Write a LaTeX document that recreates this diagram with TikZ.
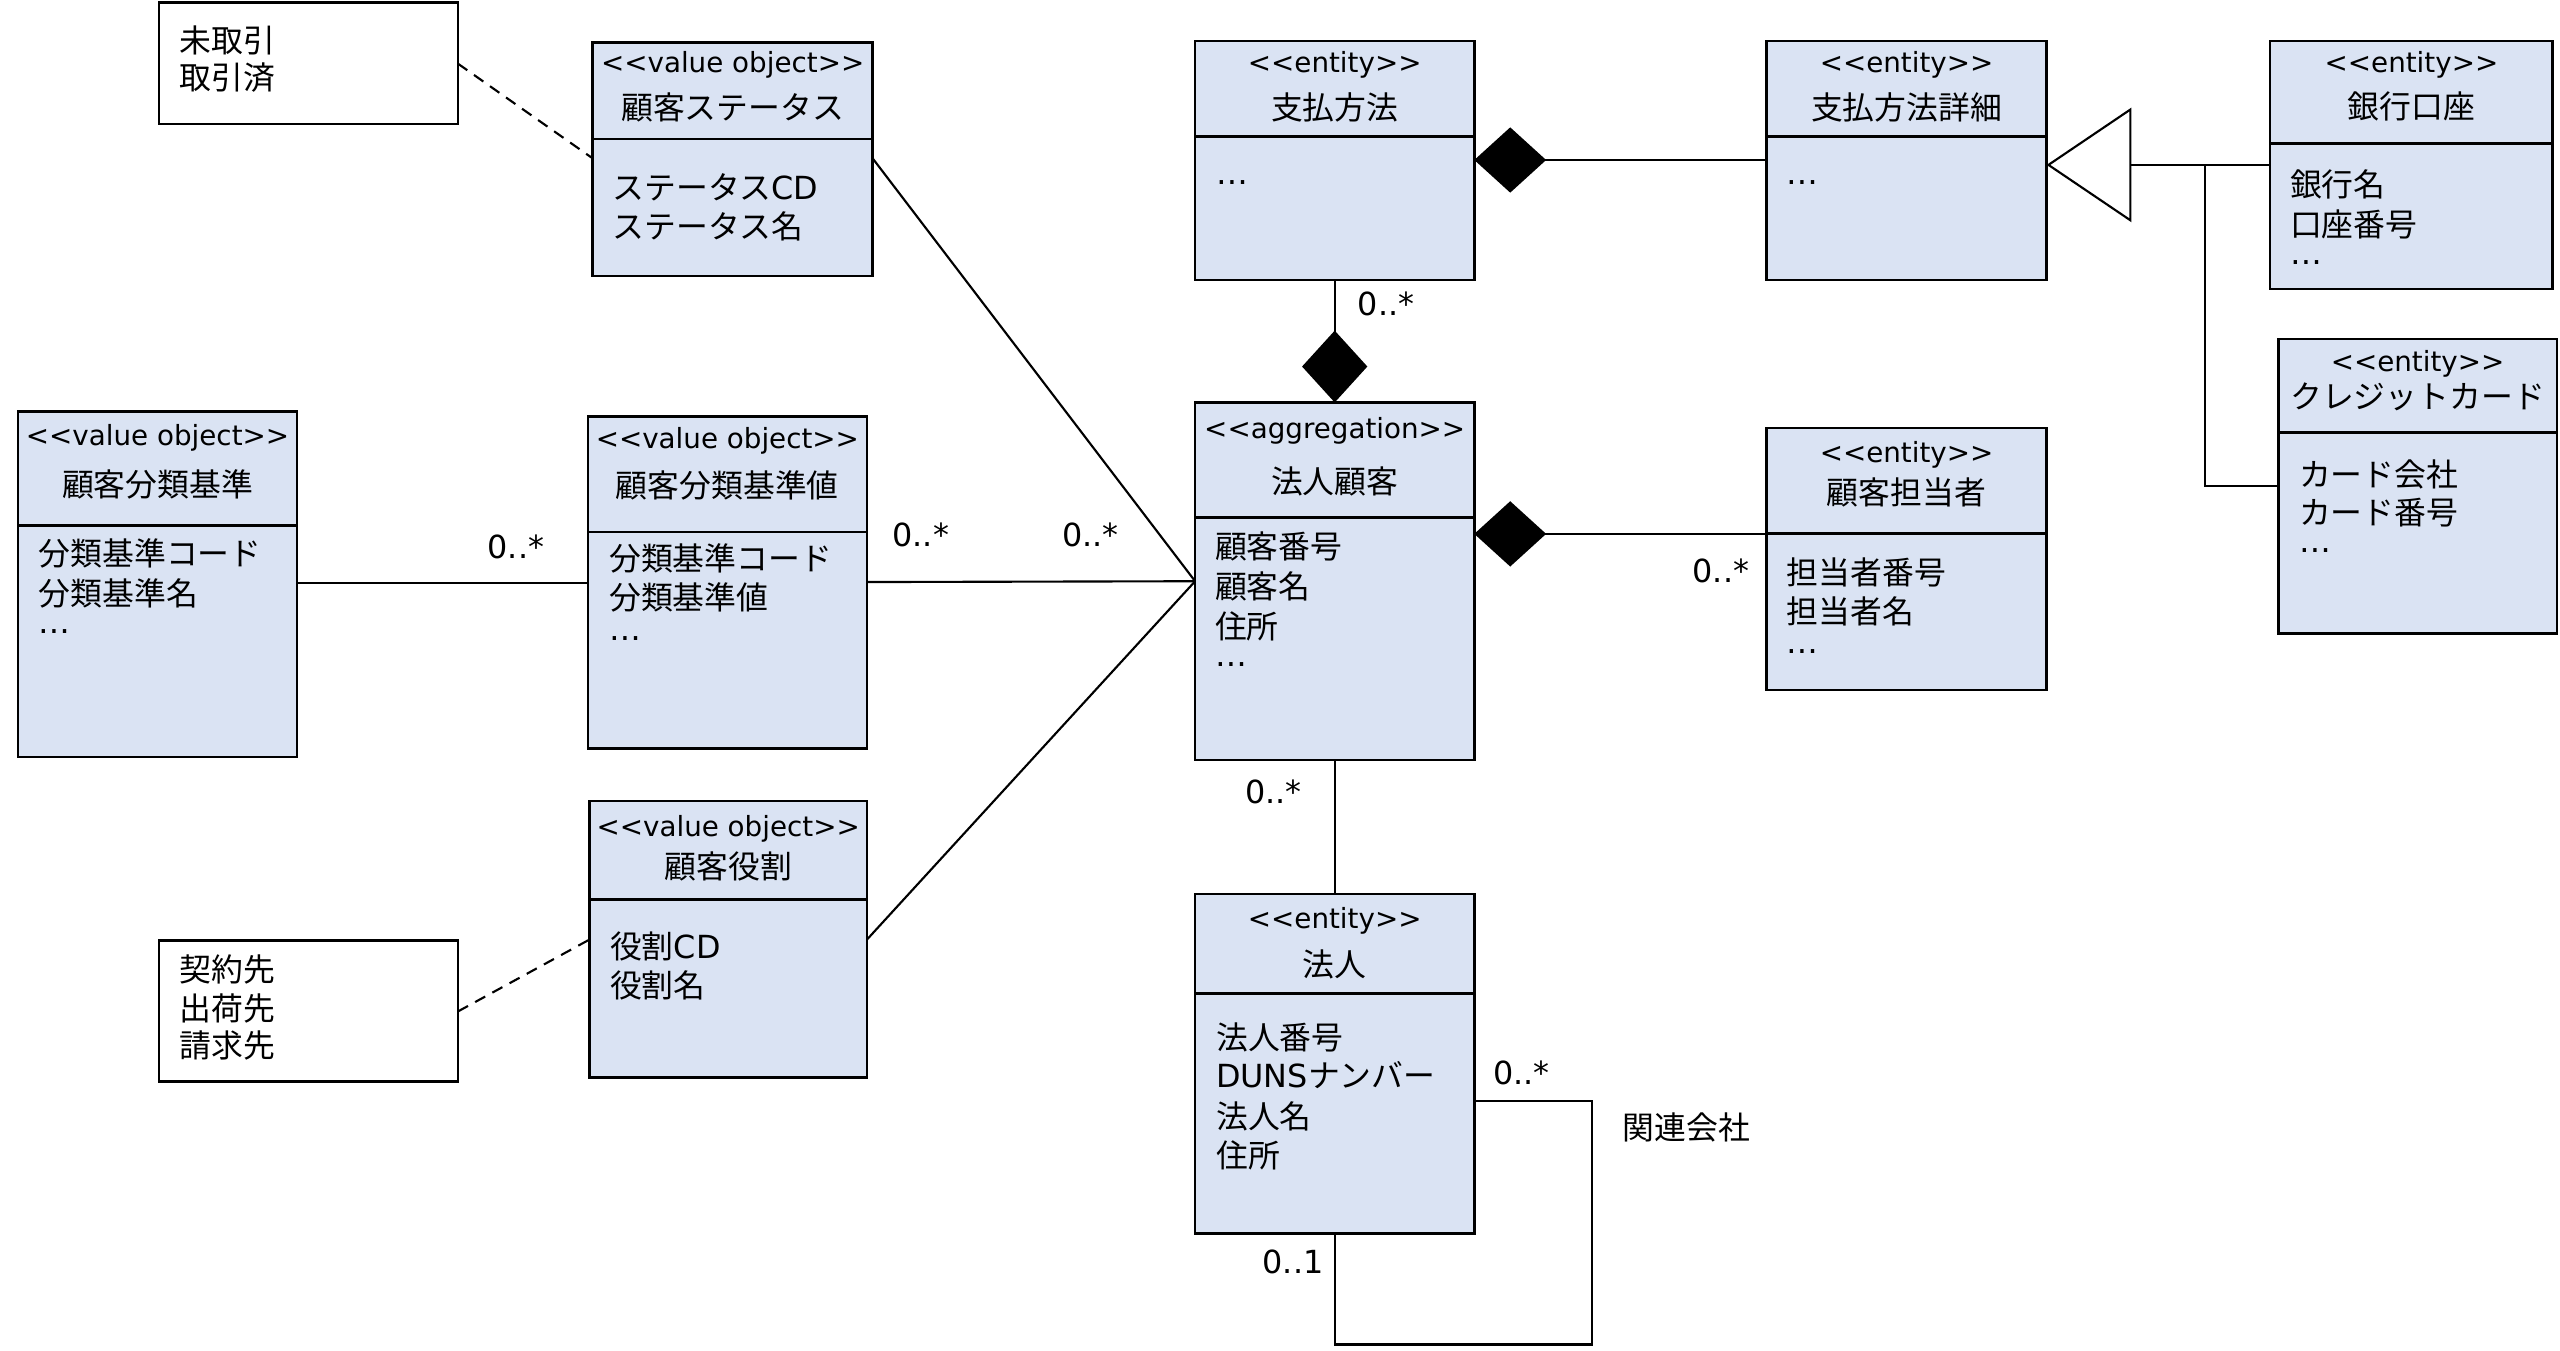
\documentclass[tikz,border=0pt]{standalone}
\usepackage{fontspec}
\setmainfont{DejaVu Sans}[Ligatures=TeXOff]
\newfontfamily\jpfont{Noto Sans CJK JP}
\newcommand\J[1]{{\jpfont #1}}
\newcommand\stt[1]{<{}<#1>{}>}
\usetikzlibrary{arrows.meta}
\definecolor{boxblue}{HTML}{DAE3F3}
\begin{document}
\begin{tikzpicture}[x=1pt,y=-1pt,
 cls/.style={draw=black, fill=boxblue, line width=1.5pt, anchor=north west, inner sep=0pt, outer sep=0pt},
 notebox/.style={draw=black, fill=white, line width=1.5pt, anchor=north west, inner sep=0pt, outer sep=0pt},
 divider/.style={line width=1.5pt},
 stereo/.style={font=\fontsize{17}{20}\selectfont, inner sep=0pt, anchor=base},
 cname/.style={font=\fontsize{19.5}{24}\selectfont, inner sep=0pt, anchor=base},
 attr/.style={font=\fontsize{19.5}{24}\selectfont, inner sep=0pt, anchor=base west},
 lbl/.style={font=\fontsize{19.5}{24}\selectfont, inner sep=0pt, anchor=base},
 conn/.style={line width=1.3pt},
 dashconn/.style={line width=1.3pt, dash pattern=on 7pt off 5pt},
 comp/.style={line width=1.3pt, -{Diamond[length=44pt,width=40pt,fill=black]}},
 gen/.style={line width=1.3pt, -{Triangle[open,length=52pt,width=70pt,fill=white]}},
]
\fill[white] (0,0) rectangle (1568,827);
\useasboundingbox (0,0) rectangle (1568,827);

% ---------- boxes ----------
\node[notebox, minimum width=183pt, minimum height=74.5pt] (note1) at (97.5,1.5) {};
\node[cls, minimum width=171.5pt, minimum height=143pt] (st) at (363,26) {};
\node[cls, minimum width=171pt, minimum height=211.5pt] (cb) at (11,252) {};
\node[cls, minimum width=171pt, minimum height=203.5pt] (cbv) at (360,255) {};
\node[cls, minimum width=170pt, minimum height=169.5pt] (cr) at (361,490.5) {};
\node[notebox, minimum width=183pt, minimum height=86.5pt] (note2) at (97.5,576) {};
\node[cls, minimum width=171pt, minimum height=146.5pt] (pm) at (732,25) {};
\node[cls, minimum width=171.5pt, minimum height=146.5pt] (pd) at (1082,25) {};
\node[cls, minimum width=173pt, minimum height=152pt] (ba) at (1390.5,25) {};
\node[cls, minimum width=170.5pt, minimum height=180.5pt] (cc) at (1395.5,207.5) {};
\node[cls, minimum width=171pt, minimum height=219pt] (hk) at (732,246.5) {};
\node[cls, minimum width=171.5pt, minimum height=160.5pt] (ct) at (1082,262) {};
\node[cls, minimum width=171pt, minimum height=208pt] (hj) at (732,547.5) {};

% ---------- dividers ----------
\draw[divider] (st.west |- 0,85) -- (st.east |- 0,85);
\draw[divider] (cb.west |- 0,322) -- (cb.east |- 0,322);
\draw[divider] (cbv.west |- 0,326) -- (cbv.east |- 0,326);
\draw[divider] (cr.west |- 0,551) -- (cr.east |- 0,551);
\draw[divider] (pm.west |- 0,83.5) -- (pm.east |- 0,83.5);
\draw[divider] (pd.west |- 0,83.5) -- (pd.east |- 0,83.5);
\draw[divider] (ba.west |- 0,88) -- (ba.east |- 0,88);
\draw[divider] (cc.west |- 0,265) -- (cc.east |- 0,265);
\draw[divider] (hk.west |- 0,317) -- (hk.east |- 0,317);
\draw[divider] (ct.west |- 0,326.7) -- (ct.east |- 0,326.7);
\draw[divider] (hj.west |- 0,608.5) -- (hj.east |- 0,608.5);

% ---------- texts ----------
\node[attr] (n1a) at (110,32) {\J{未取引}};
\node[attr] (n1b) at (110,55) {\J{取引済}};

\node[stereo] (sts) at (448.75,44.5) {\stt{value object}};
\node[cname] (stn) at (448.75,73) {\J{顧客ステータス}};
\node[attr] (sta) at (375,122) {\J{ステータス}CD};
\node[attr] (stb) at (375,146) {\J{ステータス名}};

\node[stereo] (cbs) at (96.5,273) {\stt{value object}};
\node[cname] (cbn) at (96.5,304) {\J{顧客分類基準}};
\node[attr] (cba) at (23.5,346.5) {\J{分類基準コード}};
\node[attr] (cbb) at (23.5,371) {\J{分類基準名}};
\node[attr] (cbc) at (23.5,388) {…};

\node[stereo] (cvs) at (445.5,275) {\stt{value object}};
\node[cname] (cvn) at (445.5,304.5) {\J{顧客分類基準値}};
\node[attr] (cva) at (373,349.5) {\J{分類基準コード}};
\node[attr] (cvb) at (373,373.5) {\J{分類基準値}};
\node[attr] (cvc) at (373,392.5) {…};

\node[stereo] (crs) at (446,512.5) {\stt{value object}};
\node[cname] (crn) at (446,538) {\J{顧客役割}};
\node[attr] (cra) at (373.5,587) {\J{役割}CD};
\node[attr] (crb) at (373.5,611) {\J{役割名}};

\node[attr] (n2a) at (110,601) {\J{契約先}};
\node[attr] (n2b) at (110,625) {\J{出荷先}};
\node[attr] (n2c) at (110,648) {\J{請求先}};

\node[stereo] (pms) at (817.5,44.5) {\stt{entity}};
\node[cname] (pmn) at (817.5,73) {\J{支払方法}};
\node[attr] (pma) at (745,113) {…};

\node[stereo] (pds) at (1167.75,44.5) {\stt{entity}};
\node[cname] (pdn) at (1167.75,73) {\J{支払方法詳細}};
\node[attr] (pda) at (1094,113) {…};

\node[stereo] (bas) at (1477,44.5) {\stt{entity}};
\node[cname] (ban) at (1477,72.6) {\J{銀行口座}};
\node[attr] (baa) at (1402.5,120.5) {\J{銀行名}};
\node[attr] (bab) at (1402.5,145) {\J{口座番号}};
\node[attr] (bac) at (1402.5,162) {…};

\node[stereo] (ccs) at (1480.75,227.3) {\stt{entity}};
\node[cname] (ccn) at (1480.75,250) {\J{クレジットカード}};
\node[attr] (cca) at (1408,298) {\J{カード会社}};
\node[attr] (ccb) at (1408,321) {\J{カード番号}};
\node[attr] (ccc) at (1408,338.5) {…};

\node[stereo] (hks) at (817.5,268.3) {\stt{aggregation}};
\node[cname] (hkn) at (817.5,302.3) {\J{法人顧客}};
\node[attr] (hka) at (744,342) {\J{顧客番号}};
\node[attr] (hkb) at (744,366.5) {\J{顧客名}};
\node[attr] (hkc) at (744,391) {\J{住所}};
\node[attr] (hkd) at (744,408) {…};

\node[stereo] (cts) at (1167.75,283.3) {\stt{entity}};
\node[cname] (ctn) at (1167.75,309) {\J{顧客担当者}};
\node[attr] (cta) at (1094.3,358.3) {\J{担当者番号}};
\node[attr] (ctb) at (1094.3,382) {\J{担当者名}};
\node[attr] (ctc) at (1094.3,400) {…};

\node[stereo] (hjs) at (817.5,569) {\stt{entity}};
\node[cname] (hjn) at (817.5,598) {\J{法人}};
\node[attr] (hja) at (744.7,643) {\J{法人番号}};
\node[attr] (hjb) at (744.7,666) {DUNS\J{ナンバー}};
\node[attr] (hjc) at (744.7,691) {\J{法人名}};
\node[attr] (hjd) at (744.7,715) {\J{住所}};

% ---------- connectors ----------
\coordinate (hkin) at (hk.west |- 0,356);
\draw[dashconn] (note1.east |- 0,39) -- (st.west |- 0,97);
\draw[conn] (st.east |- 0,97) -- (hkin);
\draw[conn] (cbv.east |- 0,356.5) -- (hkin);
\draw[conn] (cr.east |- 0,575.5) -- (hkin);
\draw[conn] (cb.east |- 0,357) -- (cbv.west |- 0,357);
\draw[dashconn] (note2.east |- 0,619.5) -- (cr.west |- 0,575.5);

\draw[comp] (pd.west |- 0,98) -- (pm.east |- 0,98);
\draw[comp] (pm.south) -- (hk.north);
\draw[comp] (ct.west |- 0,327) -- (hk.east |- 0,327);

\coordinate (genj) at (1350.5,101);
\draw[gen] (ba.west |- 0,101) -- (pd.east |- 0,101);
\draw[conn] (genj) |- (cc.west |- 0,297.5);

\draw[conn] (hk.south) -- (hj.north);
\coordinate (loopc) at (975,823.5);
\draw[conn] (hj.east |- 0,674.5) -| (loopc) -| (hj.south);

% ---------- labels ----------
\node[lbl] (m1) at (316,342) {0..*};
\node[lbl] (m2) at (564,335) {0..*};
\node[lbl] (m3) at (668,335) {0..*};
\node[lbl] (m4) at (849,193) {0..*};
\node[lbl] (m5) at (1054,357) {0..*};
\node[lbl] (m6) at (780,492) {0..*};
\node[lbl] (m7) at (932,664) {0..*};
\node[lbl] (m8) at (792,780) {0..1};
\node[lbl] (m9) at (1033,698) {\J{関連会社}};
\end{tikzpicture}
\end{document}
